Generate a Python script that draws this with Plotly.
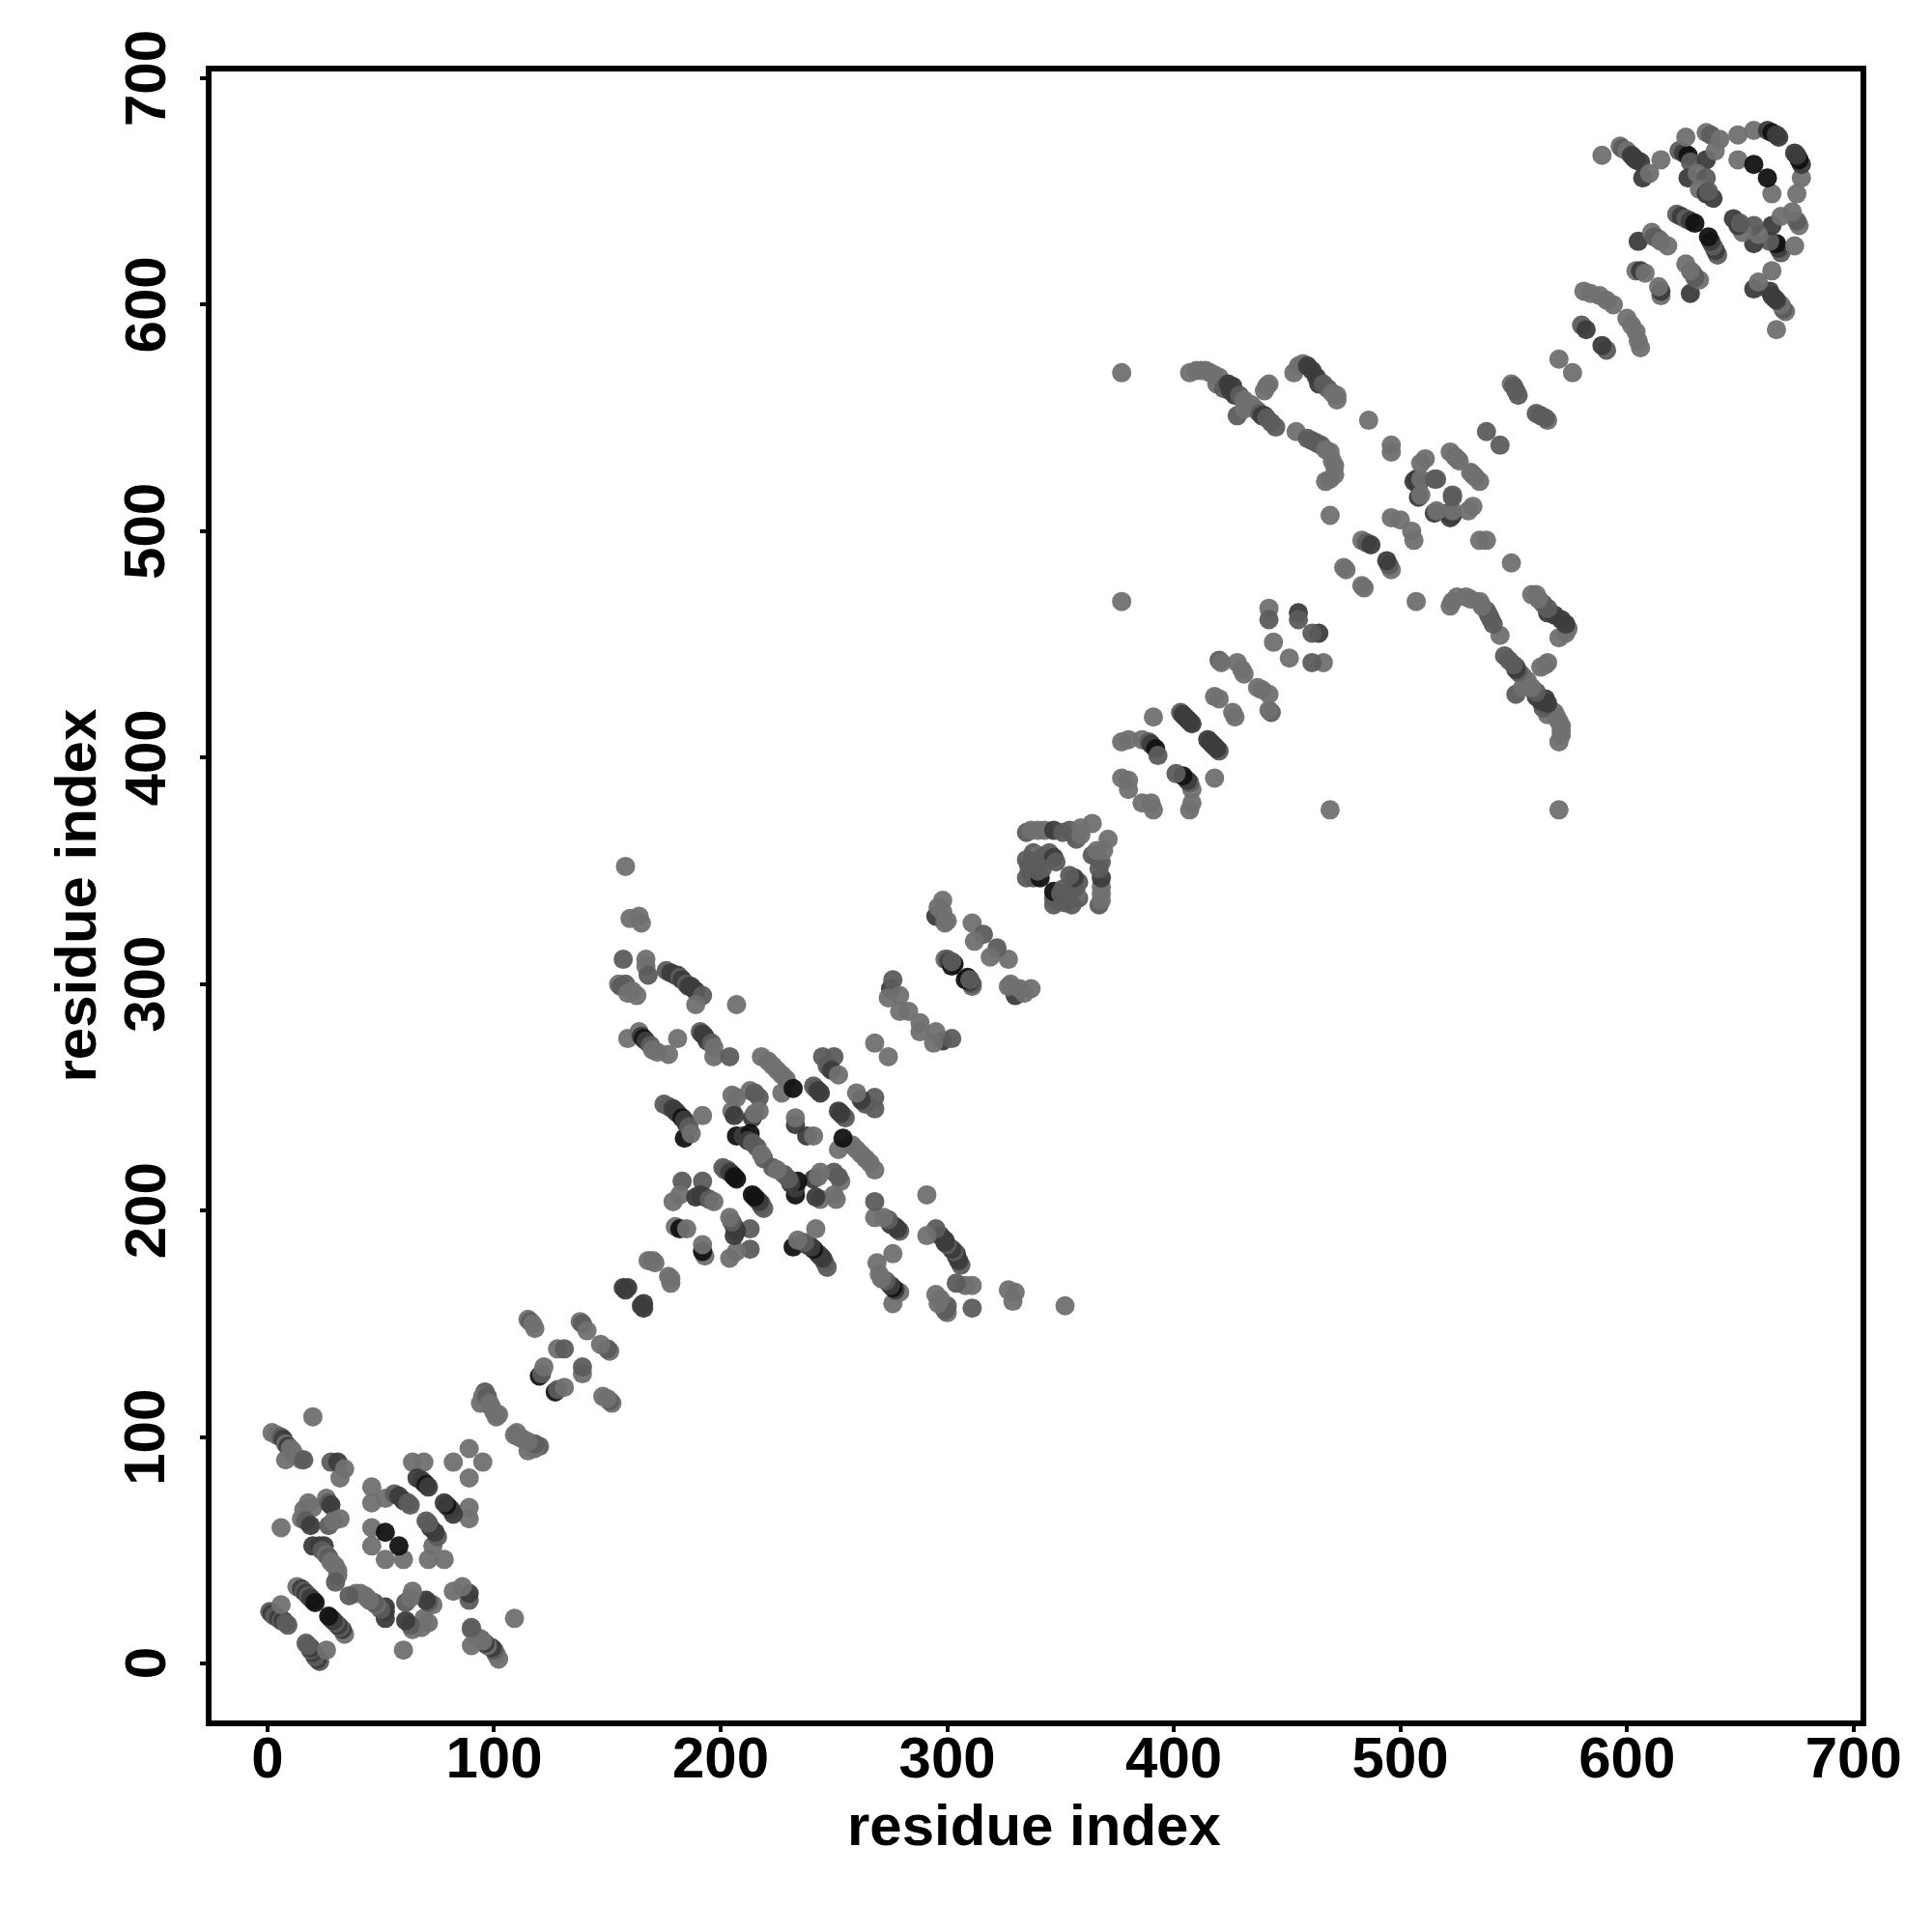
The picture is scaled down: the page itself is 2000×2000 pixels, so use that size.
import plotly.graph_objects as go

res_a = [
 2,4,6,7,8,9,10,11,8,12,15,16,
 28,31,34,32,20,
 16,18,20,26,27,28,15,17,19,27,29,32,6,
 20,23,25,24,26,27,28,29,30,31,31,30,
 13,15,16,17,18,19,20,21,
 1,2,3,5,6,7,8,9,6,
 64,69,66,68,69,70,71,
 82,89,46,46,52,56,58,60,62,63,
 46,52,46,
 96,95,94,97,98,99,100,101,102,
 115,116,117,118,138,139,141,128,131,
 120,121,122,
 168,170,171,157,159,158,
 158,160,164,165,
 157,167,167,168,155,156,158,159,163,161,
 176,178,180,181,182,183,185,186,187,189,192,189,
 207,159,164,165,166,167,169,170,172,177,181,
 191,192,193,194,196,197,197,204,
 218,221,223,225,227,229,227,232,
 245,250,247,248,249,252,241,242,243,244,
 205,207,213,215,217,217,205,206,214,215,
 233,233,
 184,175,177,179,180,181,183,184,185,186,187,192,
 207,210,213,212,214,216,219,218,
 201,202,203,204,205,206,207,
 183,192,179,182,189,191,193,195,197,
 180,182,185,
 295,298,296,298,300,299,311,316,312,
 299,300,301,303,302,302,
 275,276,279,274,279,283,268,
 335,337,340,343,347,351,354,356,359,364,357,359,
 338,340,342,345,347,348,335,336,335,337,338,341,342,340,
 420,421,428,430,431,
 418,420,
 403,404,405,406,407,408,391,
 377,380,386,389,390,392,393,
 377,380,380,377,377,
 442,442,444,455,455,
 428,407,410,412,414,416,418,419,420,422,424,426,425,427,429,431,431,
 442,441,440,
 434,436,437,438,439,440,441,443,445,
 454,459,461,463,465,467,469,467,469,470,471,471,
 453,455,457,459,461,463,464,466,468,470,472,472,
 486,496,496,469,483,485,487,475,476,496,500,
 507,506,508,509,508,509,516,515,511,509,
 522,524,526,525,
 538,549,550,551,552,570,
 580,582,
 581,584,588,591,594,
 607,589,597,598,600,602,603,604,606,610,615,
 623,625,627,628,626,635,637,641,635,639,
 627,631,635,632,635,638,636,
 649,656,662,664,666,667,649,656,
 622,624,626,628,630,
 605,611,612,614,615,618,
 604,606,608,
]
res_b = [
 102,101,100,99,97,96,95,94,90,92,90,90,
 89,89,86,82,109,
 68,71,69,73,71,70,64,63,61,61,63,64,60,
 52,52,52,50,48,47,45,44,43,41,39,36,
 34,33,32,31,30,29,28,27,
 23,22,21,20,19,19,18,17,26,
 89,89,82,81,80,79,78,
 89,95,78,71,73,75,74,72,71,70,
 60,58,52,
 120,118,115,118,115,113,111,109,110,
 152,151,150,148,151,150,147,139,139,
 127,128,131,
 178,178,177,166,166,165,
 352,329,330,327,
 311,311,308,304,300,299,300,296,295,297,
 306,305,304,304,303,302,300,299,299,297,295,291,
 291,276,279,277,276,275,273,271,270,269,276,
 279,278,277,275,274,272,268,268,
 268,266,264,262,260,258,252,254,
 268,268,264,263,262,260,255,254,253,252,
 251,250,253,252,250,244,244,242,241,243,
 238,241,
 232,247,246,245,244,243,241,240,238,237,234,242,
 233,233,234,231,230,228,223,225,
 219,218,218,217,216,215,214,
 213,213,204,207,206,207,206,205,204,
 193,192,192,
 330,337,334,332,328,327,327,322,319,
 311,311,310,309,308,310,
 298,302,295,294,288,288,274,
 367,368,368,368,368,367,368,366,369,371,364,366,
 358,357,356,358,356,354,355,352,347,349,347,347,351,350,
 443,442,442,439,437,
 427,426,
 420,419,418,417,416,415,418,
 407,408,408,407,406,404,401,
 391,390,386,469,570,
 466,461,451,464,461,
 551,570,571,571,571,570,569,565,568,563,565,564,562,560,560,558,554,
 565,564,562,
 556,554,553,552,551,551,550,548,546,
 544,541,540,539,538,536,535,522,523,531,529,525,
 570,573,574,573,571,568,565,565,563,561,560,558,
 549,538,535,507,496,495,494,484,483,506,505,
 523,522,521,523,515,516,523,523,532,530,
 535,533,531,532,
 544,565,564,562,560,576,
 591,589,
 606,605,604,602,600,
 656,666,670,669,668,666,665,664,663,658,664,
 668,667,666,663,674,676,675,673,664,668,
 656,658,656,651,649,647,650,
 675,677,677,676,675,674,664,662,
 640,639,638,637,636,
 628,632,630,629,628,626,
 615,615,614,
]
strength = [
 0,0,1,2,0,2,0,0,0,0,0,1,
 1,2,0,0,0,
 0,0,0,0,1,2,0,1,2,1,0,0,0,
 2,2,2,1,0,1,0,0,0,0,0,1,
 0,2,1,2,1,2,2,3,
 1,2,1,2,1,2,1,1,0,
 0,0,2,2,2,3,2,
 0,0,0,0,0,1,2,2,1,1,
 0,3,0,
 1,0,0,1,0,0,0,0,0,
 0,1,0,0,0,1,0,0,1,
 3,1,0,
 0,0,0,2,2,2,
 0,0,0,0,
 1,0,0,1,0,1,1,0,0,0,
 1,2,2,2,1,2,1,2,2,2,1,0,
 0,0,0,2,3,2,1,0,0,0,0,
 1,2,2,2,1,0,0,1,
 0,0,0,0,0,0,0,3,
 1,1,1,1,2,0,1,1,2,2,
 0,0,0,1,1,0,0,2,2,0,
 2,0,
 3,1,1,2,2,2,3,2,2,1,0,0,
 3,2,3,2,1,1,1,0,
 1,1,1,2,2,3,3,
 1,1,0,0,2,2,2,1,0,
 0,3,0,
 2,0,0,0,0,0,0,1,0,
 0,1,2,3,3,1,
 2,1,0,0,0,0,0,
 1,0,0,0,2,1,1,1,0,0,1,0,
 1,0,1,1,2,1,1,1,1,1,1,3,1,1,
 1,0,0,0,0,
 0,0,
 1,2,2,2,2,2,0,
 0,0,0,1,2,3,1,
 0,0,0,0,0,
 0,1,0,2,1,
 1,0,0,0,0,0,0,0,0,1,2,2,2,2,1,0,0,
 0,0,0,
 0,0,0,1,2,2,1,1,1,
 0,1,1,1,1,0,0,0,0,0,0,0,
 0,0,0,2,2,2,2,1,1,0,0,0,
 0,0,0,0,0,1,2,0,0,0,0,
 2,2,2,0,2,0,1,1,0,0,
 0,0,0,0,
 1,0,1,1,1,0,
 1,2,
 0,0,0,0,0,
 2,0,0,1,0,2,2,2,2,0,0,
 1,2,3,1,0,0,1,0,2,0,
 2,0,1,0,2,2,1,
 0,0,2,3,2,2,0,3,
 1,2,1,2,3,
 2,0,1,1,0,0,
 0,2,0,
]
assert len(res_a) == len(res_b) == len(strength), (len(res_a), len(res_b), len(strength))

tick_values = [0, 100, 200, 300, 400, 500, 600, 700]
axis_label = "residue index"

FONT = "Liberation Sans"
fig = go.Figure(go.Scatter(
    x=res_a + res_b, y=res_b + res_a, mode="markers",
    marker=dict(size=20, color=strength + strength, cmin=0, cmax=3,
                colorscale=[[0, "rgb(112,112,112)"], [1/3, "rgb(92,92,92)"],
                            [2/3, "rgb(60,60,60)"], [1, "rgb(18,18,18)"]],
                opacity=0.95, line=dict(width=0), showscale=False),
    showlegend=False, hoverinfo="skip"))

axis = dict(tickvals=tick_values, ticks="outside", ticklen=6, tickwidth=4, tickcolor="black",
            showline=True, mirror=True, linewidth=5.5, linecolor="black", showgrid=False,
            zeroline=False)
label_font = dict(family=FONT, size=60, color="black", weight="bold")
fig.update_xaxes(**axis, range=[-24.7, 703.1], tickangle=0, tickfont=label_font, ticklabelstandoff=-25)
fig.update_yaxes(**axis, range=[-25.07, 703.0], showticklabels=False)

for v in tick_values:
    fig.add_annotation(xref="paper", yref="y", x=0, y=v, text=str(v), textangle=-90, showarrow=False,
                       xanchor="center", yanchor="middle", xshift=-69, font=label_font)
fig.add_annotation(xref="paper", yref="paper", x=0.5, y=0, text=axis_label, showarrow=False,
                   xanchor="center", yanchor="middle", yshift=-108, xshift=-2, font=label_font)
fig.add_annotation(xref="paper", yref="paper", x=0, y=0.5, text=axis_label, textangle=-90, showarrow=False,
                   xanchor="center", yanchor="middle", xshift=-141, font=label_font)

fig.update_layout(width=1984, height=1984, autosize=False,
                  margin=dict(l=211, r=66.25, t=66.25, b=210.5, autoexpand=False),
                  paper_bgcolor="white", plot_bgcolor="white")
fig.write_html("out.html")
